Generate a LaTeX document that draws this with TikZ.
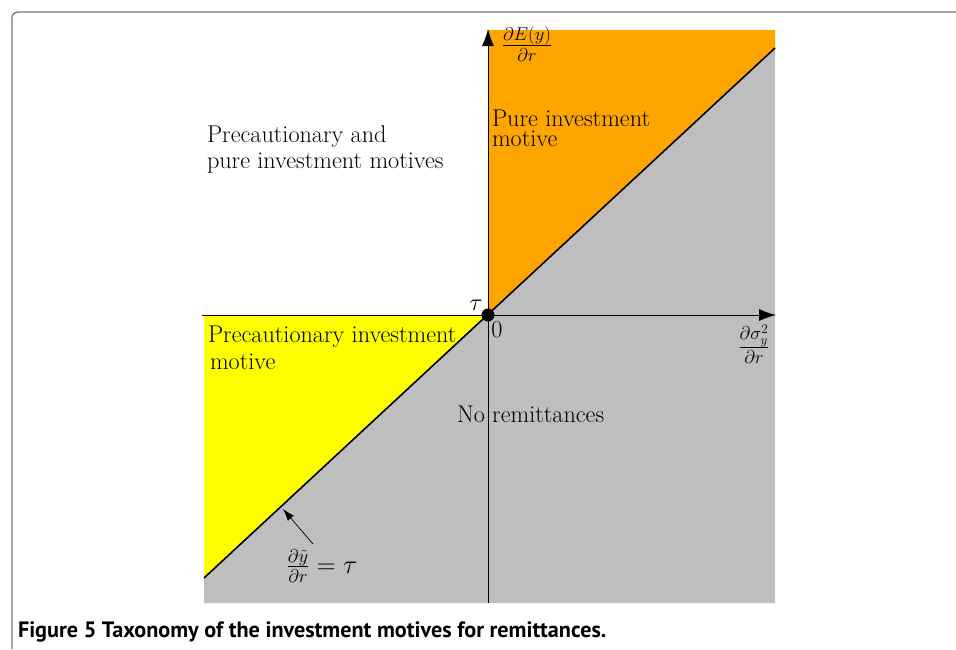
\RequirePackage{fix-cm}
\documentclass[tikz,border=0pt]{standalone}
\usepackage{fontspec}
\newfontfamily\capfont{PT Sans}
\usetikzlibrary{arrows.meta}
\definecolor{regorange}{RGB}{255,165,0}
\definecolor{regyellow}{RGB}{255,255,0}
\definecolor{reggray}{RGB}{190,190,190}
\definecolor{framegray}{RGB}{120,120,120}
\begin{document}
\begin{tikzpicture}[x=1pt,y=-1pt,
  every node/.style={inner sep=0pt,outer sep=0pt},
  lbl/.style={font=\fontsize{24.2}{28}\selectfont, anchor=base west},
  mlbl/.style={font=\fontsize{26.5}{30}\selectfont},
  axisline/.style={line width=0.8pt,-{Latex[length=17pt,width=12pt]}},
  pointer/.style={line width=0.7pt,-{Latex[length=12pt,width=8pt]}}]
\useasboundingbox (0,0) rectangle (956,649);
\fill[white] (0,0) rectangle (956,649);
\draw[framegray, line width=1.3pt, rounded corners=6pt] (12,649) -- (12,12) -- (956,12);
% coordinates
\coordinate (O) at (488,315);
\coordinate (DL) at (204,578);
\coordinate (DR) at (775,48);
\coordinate (XL) at (202,315);
\coordinate (XR) at (776,315);
\coordinate (YB) at (488,603);
\coordinate (YT) at (488,29);
% regions
\fill[reggray] (DL) -- (DR) -- (775,603) -- (204,603) -- cycle;
\fill[regorange] (O) -- (488,30) -- (775,30) -- (DR) -- cycle;
\fill[regyellow] (204,315) -- (O) -- (DL) -- cycle;
% diagonal
\draw[line width=1.6pt] (DL) -- (DR);
% axes
\draw[axisline] (XL) -- (XR);
\draw[axisline] (YB) -- (YT);
\fill (O) circle (6.5);
% labels
\node (tau) at (476,305) [font=\fontsize{24.2}{28}\selectfont] {$\tau$};
\node (zero) at (497,330) [font=\fontsize{24.2}{28}\selectfont] {$0$};
\node (ylab) at (527,44) [mlbl] {$\frac{\partial E(y)}{\partial r}$};
\node (xlab) at (754,344) [mlbl] {$\frac{\partial \sigma_y^2}{\partial r}$};
\node (pp1) at (207,142) [lbl] {Precautionary and};
\node (pp2) at (207,168) [lbl] {pure investment motives};
\node (pi1) at (492,126) [lbl] {Pure investment};
\node (pi2) at (492,146) [lbl] {motive};
\node (pr1) at (208,342) [lbl] {Precautionary investment};
\node (pr2) at (210,369) [lbl] {motive};
\node (nr) at (457,422) [lbl] {No remittances};
\node (dlab) at (322,566) [mlbl] {$\frac{\partial \tilde y}{\partial r}=\tau$};
\coordinate (ptail) at (313,544);
\coordinate (phead) at (283,509);
\draw[pointer] (ptail) -- (phead);
\node (cap) at (18,637) [anchor=base west, font=\capfont\bfseries\fontsize{22.2}{26}\selectfont] {Figure 5 Taxonomy of the investment motives for remittances.};
\end{tikzpicture}
\end{document}
